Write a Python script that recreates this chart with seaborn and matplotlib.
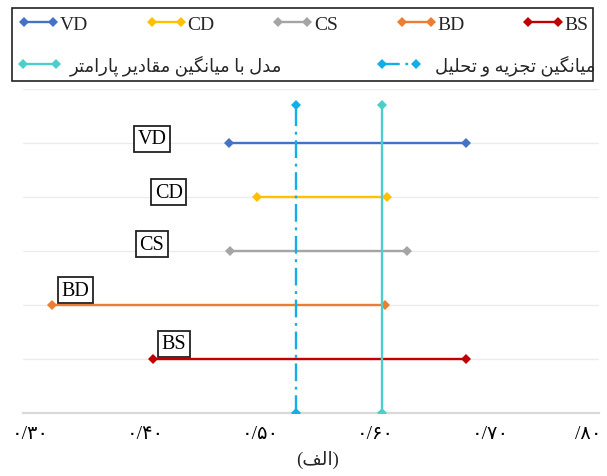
import matplotlib
matplotlib.use("Agg")
import matplotlib.pyplot as plt
from matplotlib.patches import Rectangle
from matplotlib.lines import Line2D
from matplotlib.legend_handler import HandlerLine2D
from matplotlib.transforms import ScaledTranslation
import seaborn as sns
import pandas as pd

# ---------------- data ----------------
series = ["VD", "CD", "CS", "BD", "BS"]
row_y = [5, 4, 3, 2, 1]
range_low = [0.479, 0.503, 0.480, 0.325, 0.413]
range_high = [0.685, 0.616, 0.633, 0.614, 0.685]

mean_analysis_label = "میانگین تجزیه و تحلیل"
mean_analysis_x = 0.537
model_mean_label = "مدل با میانگین مقادیر پارامتر"
model_mean_x = 0.612
vline_y = [0, 5.7]

x_ticks = [0.30, 0.40, 0.50, 0.60, 0.70, 0.80]
x_tick_labels = ["۰/۳۰", "۰/۴۰", "۰/۵۰", "۰/۶۰", "۰/۷۰", "/۸۰"]
x_title = "(الف)"

# ---------------- styles ----------------
colors = {"VD": "#4472C4", "CD": "#FFC000", "CS": "#A5A5A5",
          "BD": "#ED7D31", "BS": "#C00000"}
mean_color = "#12AEE8"
model_color = "#4CCFCB"
label_offsets_px = {"VD": (-77.5, 4), "CD": (-88, 5), "CS": (-78.5, 7),
                    "BD": (23.3, 14.7), "BS": (20.7, 15.2)}

# ---------------- simple Persian shaping for display ----------------
FORMS = {
    '\u0627': ('\uFE8D', '\uFE8E', None, None),
    '\u0628': ('\uFE8F', '\uFE90', '\uFE91', '\uFE92'),
    '\u067E': ('\uFB56', '\uFB57', '\uFB58', '\uFB59'),
    '\u062A': ('\uFE95', '\uFE96', '\uFE97', '\uFE98'),
    '\u062C': ('\uFE9D', '\uFE9E', '\uFE9F', '\uFEA0'),
    '\u062D': ('\uFEA1', '\uFEA2', '\uFEA3', '\uFEA4'),
    '\u062F': ('\uFEA9', '\uFEAA', None, None),
    '\u0631': ('\uFEAD', '\uFEAE', None, None),
    '\u0632': ('\uFEAF', '\uFEB0', None, None),
    '\u0641': ('\uFED1', '\uFED2', '\uFED3', '\uFED4'),
    '\u0642': ('\uFED5', '\uFED6', '\uFED7', '\uFED8'),
    '\u06AF': ('\uFB92', '\uFB93', '\uFB94', '\uFB95'),
    '\u0644': ('\uFEDD', '\uFEDE', '\uFEDF', '\uFEE0'),
    '\u0645': ('\uFEE1', '\uFEE2', '\uFEE3', '\uFEE4'),
    '\u0646': ('\uFEE5', '\uFEE6', '\uFEE7', '\uFEE8'),
    '\u0647': ('\uFEE9', '\uFEEA', '\uFEEB', '\uFEEC'),
    '\u0648': ('\uFEED', '\uFEEE', None, None),
    '\u06CC': ('\uFBFC', '\uFBFD', '\uFBFE', '\uFBFF'),
}


def shape(s):
    out = []
    n = len(s)
    for i, ch in enumerate(s):
        if ch not in FORMS:
            out.append(ch)
            continue
        f = FORMS[ch]
        prev = s[i - 1] if i > 0 else ''
        nxt = s[i + 1] if i < n - 1 else ''
        jp = prev in FORMS and FORMS[prev][2] is not None
        jn = f[2] is not None and nxt in FORMS
        if jp and jn:
            out.append(f[3])
        elif jp:
            out.append(f[1])
        elif jn:
            out.append(f[2])
        else:
            out.append(f[0])
    vis = ''.join(reversed(out))
    return vis.translate(str.maketrans('()', ')('))


# ---------------- figure ----------------
sns.set_style("white")
plt.rcParams['font.family'] = ['Liberation Serif', 'DejaVu Sans']

W, H = 607, 477
fig = plt.figure(figsize=(W / 100, H / 100), dpi=100)
ax_l, ax_r, ax_t, ax_b = 23.3, 598.7, 90, 414
ax = fig.add_axes([ax_l / W, 1 - ax_b / H, (ax_r - ax_l) / W, (ax_b - ax_t) / H])

rows = []
for s, y, lo, hi in zip(series, row_y, range_low, range_high):
    rows.append({"series": s, "x": lo, "y": y})
    rows.append({"series": s, "x": hi, "y": y})
df = pd.DataFrame(rows)

handles = {}
for s in series:
    sub = df[df["series"] == s]
    sns.lineplot(data=sub, x="x", y="y", ax=ax, color=colors[s], marker="D",
                 markersize=5, markeredgewidth=0, linewidth=1.7,
                 estimator=None, sort=False, legend=False, zorder=3)
    handles[s] = ax.lines[-1]

vdf = pd.DataFrame({"x": [mean_analysis_x] * 2 + [model_mean_x] * 2,
                    "y": vline_y + vline_y,
                    "kind": ["mean"] * 2 + ["model"] * 2})
sns.lineplot(data=vdf[vdf.kind == "mean"], x="x", y="y", ax=ax, color=mean_color,
             marker="D", markersize=5, markeredgewidth=0, linewidth=1.7,
             estimator=None, sort=False, legend=False, zorder=4)
h_mean = ax.lines[-1]
h_mean.set_dashes([7.5, 2.4, 1.2, 2.4])
sns.lineplot(data=vdf[vdf.kind == "model"], x="x", y="y", ax=ax, color=model_color,
             marker="D", markersize=5, markeredgewidth=0, linewidth=1.7,
             estimator=None, sort=False, legend=False, zorder=4)
h_model = ax.lines[-1]

# series labels in boxes
for s, y, lo in zip(series, row_y, range_low):
    ax.annotate(s, xy=(lo, y), xytext=label_offsets_px[s], textcoords="offset pixels",
                ha="center", va="center", fontsize=14.5, color="black", zorder=6,
                bbox=dict(boxstyle="square,pad=0.18", fc="white", ec="#222222", lw=1.3))

# axes styling
ax.set_xlim(0.30, 0.80)
ax.set_ylim(0, 6)
ax.set_yticks([1, 2, 3, 4, 5, 6])
ax.set_yticklabels([])
ax.yaxis.grid(True, color="#ECECEC", linewidth=1.0, zorder=0)
ax.xaxis.grid(False)
ax.set_axisbelow(True)
for sp in ["left", "right", "top"]:
    ax.spines[sp].set_visible(False)
ax.spines["bottom"].set_color("#D9D9D9")
ax.spines["bottom"].set_linewidth(1.6)
ax.set_xlabel("")
ax.set_ylabel("")
ax.tick_params(axis="both", length=0)
ax.tick_params(axis="x", pad=9, labelsize=14, colors="black")
ax.set_xticks(x_ticks)
ax.set_xticklabels(x_tick_labels)
labels = ax.get_xticklabels()
for i, lab in enumerate(labels):
    if i == len(labels) - 1:
        lab.set_ha("right")
        dx = 3
    else:
        dx = 7.0
    lab.set_transform(lab.get_transform() + ScaledTranslation(dx / 100, 0, fig.dpi_scale_trans))

fig.text(318 / W, 1 - 460 / H, shape(x_title), ha="center", va="center", fontsize=13.5)

# legend frame
fig.add_artist(Rectangle((12 / W, 1 - 82 / H), (593 - 12) / W, (82 - 9) / H,
                         transform=fig.transFigure, fill=False, ec="#222222", lw=1.2))

hmap = {Line2D: HandlerLine2D(marker_pad=0.1, numpoints=2)}
fs = 14
fs_px = fs * 100 / 72
leg1 = fig.legend([handles[s] for s in series], series, loc="center left",
                  bbox_to_anchor=(22 / W, 1 - 25 / H), bbox_transform=fig.transFigure,
                  ncol=5, frameon=False, borderpad=0, borderaxespad=0,
                  handlelength=33 / fs_px, handletextpad=5 / fs_px,
                  columnspacing=61.5 / fs_px, fontsize=fs, handler_map=hmap)
fs2 = 13
fs2_px = fs2 * 100 / 72
leg2 = fig.legend([h_model], [shape(model_mean_label)], loc="center left",
                  bbox_to_anchor=(21 / W, 1 - 66 / H), bbox_transform=fig.transFigure,
                  frameon=False, borderpad=0, borderaxespad=0,
                  handlelength=37 / fs2_px, handletextpad=12 / fs2_px,
                  fontsize=fs2, handler_map=hmap)
leg3 = fig.legend([h_mean], [shape(mean_analysis_label)], loc="center right",
                  bbox_to_anchor=(595 / W, 1 - 66 / H), bbox_transform=fig.transFigure,
                  frameon=False, borderpad=0, borderaxespad=0,
                  handlelength=37 / fs2_px, handletextpad=17 / fs2_px,
                  fontsize=fs2, handler_map=hmap)

fig.savefig("out.png", dpi=100)
